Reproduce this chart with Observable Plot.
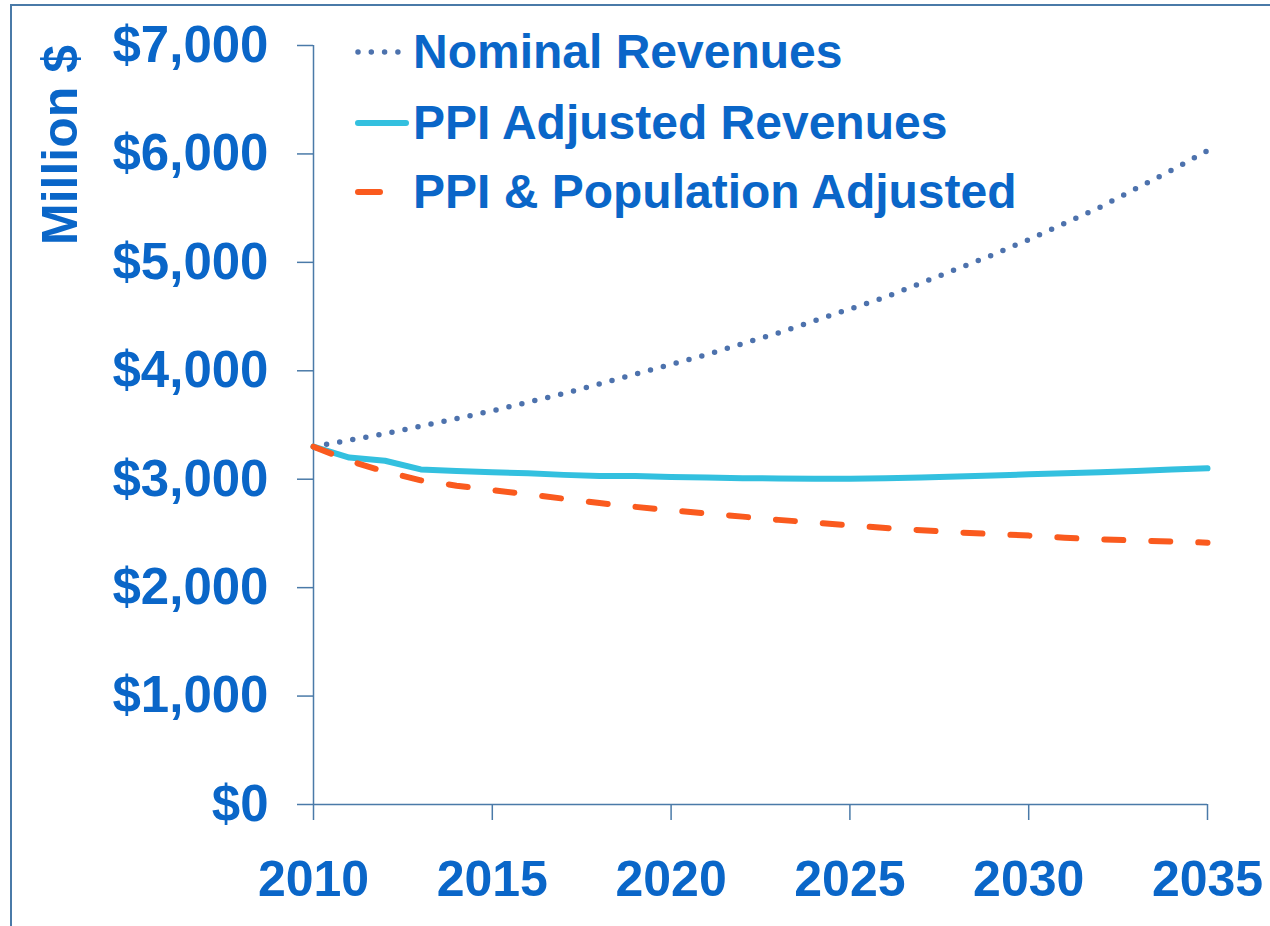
<!DOCTYPE html>
<html>
<head>
<meta charset="utf-8">
<script src="https://cdn.jsdelivr.net/npm/d3@7"></script>
<script src="https://cdn.jsdelivr.net/npm/@observablehq/plot@0.6"></script>
<style>
  html, body { margin: 0; padding: 0; background: #fff; }
  #wrap { position: relative; width: 1270px; height: 926px; overflow: hidden; font-family: "Liberation Sans", Arial, sans-serif; font-weight: bold; color: #0a66c8; }
  #frame { position: absolute; left: 10px; top: 4px; width: 1270px; height: 940px; border-top: 2px solid #4a7aa8; border-left: 2px solid #4a7aa8; }
  #ylabel { position: absolute; left: 60px; top: 145px; transform: translate(-50%, -50%) rotate(-90deg); font-size: 50px; white-space: nowrap; line-height: 1; }
  .leg { position: absolute; left: 355px; height: 50px; display: flex; align-items: center; white-space: nowrap; font-size: 48px; line-height: 1; }
  .leg svg { margin-right: 4px; }
</style>
</head>
<body>
<div id="wrap">
  <div id="frame"></div>
  <div id="chart"></div>
  <div id="ylabel">Million $</div>
  <div id="legend"></div>
</div>
<script>
const years = [2010, 2011, 2012, 2013, 2014, 2015, 2016, 2017, 2018, 2019, 2020, 2021, 2022,
               2023, 2024, 2025, 2026, 2027, 2028, 2029, 2030, 2031, 2032, 2033, 2034, 2035];
const nominalRevenues = [3300, 3360, 3420, 3490, 3560, 3630, 3710, 3790, 3880, 3970, 4060, 4150, 4250,
                         4350, 4460, 4570, 4680, 4810, 4940, 5070, 5210, 5360, 5510, 5680, 5850, 6030];
const ppiAdjusted = [3300, 3200, 3170, 3090, 3075, 3065, 3055, 3040, 3030, 3030, 3020, 3015, 3010,
                     3007, 3005, 3005, 3008, 3015, 3025, 3035, 3045, 3055, 3065, 3075, 3090, 3100];
const ppiPopAdjusted = [3300, 3170, 3070, 2990, 2940, 2900, 2860, 2820, 2780, 2745, 2712, 2685, 2655,
                        2625, 2600, 2575, 2550, 2530, 2510, 2495, 2480, 2460, 2445, 2435, 2425, 2415];
const seriesNames = ["Nominal Revenues", "PPI Adjusted Revenues", "PPI & Population Adjusted"];
const yTicks = [0, 1000, 2000, 3000, 4000, 5000, 6000, 7000];
const xTicks = [2010, 2015, 2020, 2025, 2030, 2035];

const textColor = "#0a66c8";
const axisColor = "#4a7aa8";
const colors = ["#4d72ad", "#33c0df", "#fa5a1e"];

const toRows = vals => years.map((y, i) => ({year: y, value: vals[i]}));

const chart = Plot.plot({
  width: 1270,
  height: 926,
  marginLeft: 313,
  marginRight: 63,
  marginTop: 45,
  marginBottom: 122,
  style: {fontFamily: "'Liberation Sans', Arial, sans-serif", background: "transparent", overflow: "visible"},
  x: {domain: [2010, 2035]},
  y: {domain: [0, 7000]},
  marks: [
    Plot.axisY({ticks: yTicks, tickSize: 16, tickPadding: 29, tickFormat: d => "$" + d3.format(",")(d),
                fontSize: 51, fontWeight: "bold", fill: textColor, stroke: axisColor, strokeWidth: 1.5, label: null}),
    Plot.axisX({ticks: xTicks, tickSize: 16, tickPadding: 40, tickFormat: d => String(d),
                fontSize: 50, fontWeight: "bold", fill: textColor, stroke: axisColor, strokeWidth: 1.5, label: null}),
    Plot.ruleX([2010], {stroke: axisColor, strokeWidth: 1.5}),
    Plot.ruleY([0], {stroke: axisColor, strokeWidth: 1.5}),
    Plot.line(toRows(nominalRevenues), {x: "year", y: "value", stroke: colors[0], strokeWidth: 5.5,
              strokeDasharray: "0,13.3", strokeLinecap: "round"}),
    Plot.line(toRows(ppiAdjusted), {x: "year", y: "value", stroke: colors[1], strokeWidth: 6}),
    Plot.line(toRows(ppiPopAdjusted), {x: "year", y: "value", stroke: colors[2], strokeWidth: 6,
              strokeDasharray: "19,28", strokeLinecap: "round"})
  ]
});
document.getElementById("chart").appendChild(chart);

// Legend
const legendTops = [27, 98, 167];
const legend = document.getElementById("legend");
seriesNames.forEach((name, i) => {
  const row = document.createElement("div");
  row.className = "leg";
  row.style.top = legendTops[i] + "px";
  const ns = "http://www.w3.org/2000/svg";
  const s = document.createElementNS(ns, "svg");
  s.setAttribute("width", 54);
  s.setAttribute("height", 12);
  const l = document.createElementNS(ns, "line");
  l.setAttribute("y1", 6); l.setAttribute("y2", 6);
  l.setAttribute("stroke", colors[i]);
  l.setAttribute("stroke-linecap", "round");
  if (i === 0) { l.setAttribute("x1", 3); l.setAttribute("x2", 46); l.setAttribute("stroke-width", 5.5); l.setAttribute("stroke-dasharray", "0,13.3"); }
  if (i === 1) { l.setAttribute("x1", 3); l.setAttribute("x2", 51); l.setAttribute("stroke-width", 6); }
  if (i === 2) { l.setAttribute("x1", 3); l.setAttribute("x2", 25); l.setAttribute("stroke-width", 6); }
  s.appendChild(l);
  row.appendChild(s);
  const t = document.createElement("span");
  t.textContent = name;
  row.appendChild(t);
  legend.appendChild(row);
});
</script>
</body>
</html>
